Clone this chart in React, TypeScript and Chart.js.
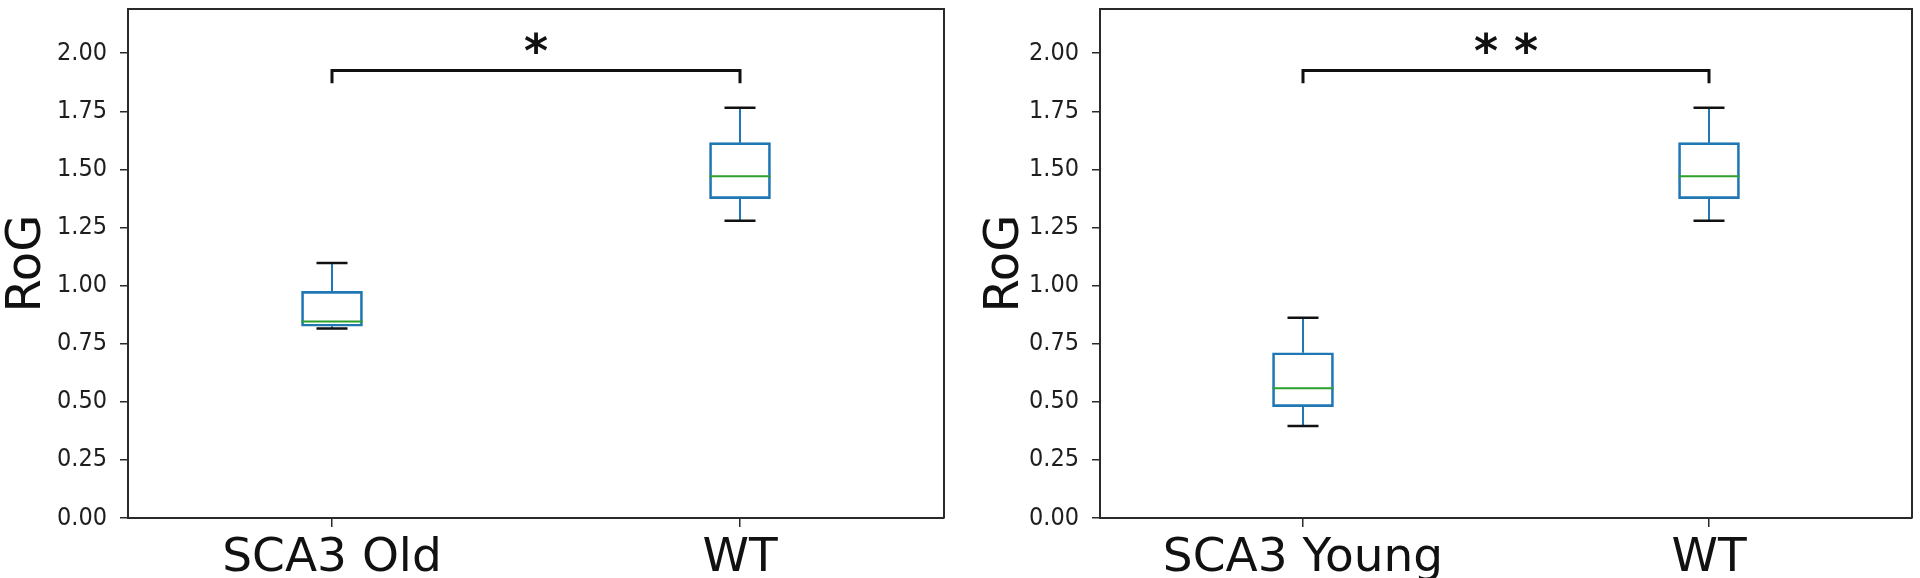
import React, { useEffect, useRef } from 'react';
import { Chart, registerables } from 'chart.js';

Chart.register(...registerables);

// ---- data ----
const leftCategories = ['SCA3 Old', 'WT'];
const leftWhiskerLow = [0.815, 1.279];
const leftQ1 = [0.825, 1.374];
const leftMedian = [0.845, 1.47];
const leftQ3 = [0.975, 1.615];
const leftWhiskerHigh = [1.097, 1.765];
const leftStars = '*';

const rightCategories = ['SCA3 Young', 'WT'];
const rightWhiskerLow = [0.396, 1.279];
const rightQ1 = [0.479, 1.374];
const rightMedian = [0.558, 1.47];
const rightQ3 = [0.711, 1.615];
const rightWhiskerHigh = [0.862, 1.765];
const rightStars = '* *';

const yTicks = [0, 0.25, 0.5, 0.75, 1.0, 1.25, 1.5, 1.75, 2.0];
const yMin = 0;
const yMax = 2.19;
const bracketLevel = 1.925;
const bracketLegLevel = 1.87;
const starLevel = 2.045;
const yTitle = 'RoG';

const BLUE = '#1f77b4';
const GREEN = '#2ca02c';
const AXIS = '#2a2a2a';

interface PanelCfg {
  categories: string[];
  lo: number[];
  q1: number[];
  med: number[];
  q3: number[];
  hi: number[];
  stars: string;
  yWidth: number;
  padRight: number;
  titlePad: number;
}

const boxPlugin = {
  id: 'boxExtras',
  afterDatasetsDraw(chart: any, _args: any, opts: any) {
    const cfg: PanelCfg = opts.cfg;
    const ctx = chart.ctx;
    const y = chart.scales.y;
    const meta = chart.getDatasetMeta(0);
    const capHalf = 15.5;
    const boxHalf = 30.5;
    ctx.save();
    meta.data.forEach((el: any, i: number) => {
      const x = el.x;
      ctx.strokeStyle = BLUE;
      ctx.lineWidth = 2;
      ctx.beginPath();
      ctx.moveTo(x, y.getPixelForValue(cfg.q3[i]));
      ctx.lineTo(x, y.getPixelForValue(cfg.hi[i]));
      ctx.moveTo(x, y.getPixelForValue(cfg.q1[i]));
      ctx.lineTo(x, y.getPixelForValue(cfg.lo[i]));
      ctx.stroke();
      ctx.strokeStyle = GREEN;
      ctx.lineWidth = 2;
      ctx.beginPath();
      const ym = y.getPixelForValue(cfg.med[i]);
      ctx.moveTo(x - boxHalf, ym);
      ctx.lineTo(x + boxHalf, ym);
      ctx.stroke();
      ctx.strokeStyle = '#111';
      ctx.lineWidth = 2.5;
      ctx.beginPath();
      [cfg.hi[i], cfg.lo[i]].forEach((v) => {
        const yy = y.getPixelForValue(v);
        ctx.moveTo(x - capHalf, yy);
        ctx.lineTo(x + capHalf, yy);
      });
      ctx.stroke();
    });
    const x0 = meta.data[0].x;
    const x1 = meta.data[1].x;
    const yb = y.getPixelForValue(bracketLevel);
    const yl = y.getPixelForValue(bracketLegLevel);
    ctx.strokeStyle = '#111';
    ctx.lineWidth = 3;
    ctx.lineJoin = 'miter';
    ctx.beginPath();
    ctx.moveTo(x0, yl);
    ctx.lineTo(x0, yb);
    ctx.lineTo(x1, yb);
    ctx.lineTo(x1, yl);
    ctx.stroke();
    ctx.fillStyle = '#111';
    ctx.font = 'bold 46px "DejaVu Sans"';
    ctx.textAlign = 'center';
    ctx.textBaseline = 'middle';
    ctx.fillText(cfg.stars, (x0 + x1) / 2, y.getPixelForValue(starLevel) + 12);
    const a = chart.chartArea;
    ctx.strokeStyle = AXIS;
    ctx.lineWidth = 2;
    ctx.beginPath();
    ctx.moveTo(a.left, a.top);
    ctx.lineTo(a.right, a.top);
    ctx.lineTo(a.right, a.bottom);
    ctx.stroke();
    ctx.restore();
  },
};

function Panel({ cfg }: { cfg: PanelCfg }) {
  const ref = useRef<HTMLCanvasElement | null>(null);
  useEffect(() => {
    if (!ref.current) return;
    const chart = new Chart(ref.current, {
      type: 'bar',
      data: {
        labels: cfg.categories,
        datasets: [
          {
            data: cfg.q1.map((v, i) => [v, cfg.q3[i]]) as any,
            backgroundColor: 'rgba(0,0,0,0)',
            borderColor: BLUE,
            borderWidth: 2,
            borderSkipped: false,
            barThickness: 61,
          },
        ],
      },
      options: {
        responsive: false,
        animation: false,
        devicePixelRatio: 1,
        layout: { padding: { top: 9, right: cfg.padRight, left: 0, bottom: 0 } },
        plugins: {
          legend: { display: false },
          tooltip: { enabled: false },
          boxExtras: { cfg },
        } as any,
        scales: {
          x: {
            type: 'category',
            offset: true,
            grid: { display: true, drawOnChartArea: false, offset: false, tickLength: 9, color: AXIS, lineWidth: 1.5 },
            border: { display: true, color: AXIS, width: 2 },
            ticks: {
              color: '#111',
              padding: 4,
              maxRotation: 0,
              font: { family: '"DejaVu Sans"', size: 47, lineHeight: 1.2 },
            },
            afterFit: (s: any) => {
              s.height = 60;
              s.paddingLeft = 0;
              s.paddingRight = 0;
            },
          },
          y: {
            type: 'linear',
            min: yMin,
            max: yMax,
            afterBuildTicks: (s: any) => {
              s.ticks = yTicks.map((v) => ({ value: v }));
            },
            grid: { display: true, drawOnChartArea: false, tickLength: 8, color: AXIS, lineWidth: 1.5 },
            border: { display: true, color: AXIS, width: 2 },
            ticks: {
              color: '#1e1e1e',
              padding: 13,
              font: { family: '"DejaVu Sans Condensed", "DejaVu Sans"', size: 25 },
              callback: (v: any) => Number(v).toFixed(2),
            },
            title: {
              display: true,
              text: yTitle,
              color: '#111',
              padding: { top: cfg.titlePad, bottom: 0 },
              font: { family: '"DejaVu Sans"', size: 48, lineHeight: 1 },
            },
            afterFit: (s: any) => {
              s.width = cfg.yWidth;
              s.paddingTop = 0;
              s.paddingBottom = 0;
            },
          },
        },
      },
      plugins: [boxPlugin],
    });
    return () => chart.destroy();
  }, [cfg]);
  return <canvas ref={ref} width={960} height={578} style={{ display: 'block', width: 960, height: 578 }} />;
}

const leftCfg: PanelCfg = {
  categories: leftCategories,
  lo: leftWhiskerLow,
  q1: leftQ1,
  med: leftMedian,
  q3: leftQ3,
  hi: leftWhiskerHigh,
  stars: leftStars,
  yWidth: 128,
  padRight: 16,
  titlePad: 4,
};

const rightCfg: PanelCfg = {
  categories: rightCategories,
  lo: rightWhiskerLow,
  q1: rightQ1,
  med: rightMedian,
  q3: rightQ3,
  hi: rightWhiskerHigh,
  stars: rightStars,
  yWidth: 140,
  padRight: 8,
  titlePad: 22,
};

export default function App() {
  return (
    <div style={{ position: 'fixed', left: 0, top: 0, width: 1920, height: 578, background: '#fff', display: 'flex' }}>
      <Panel cfg={leftCfg} />
      <Panel cfg={rightCfg} />
    </div>
  );
}
